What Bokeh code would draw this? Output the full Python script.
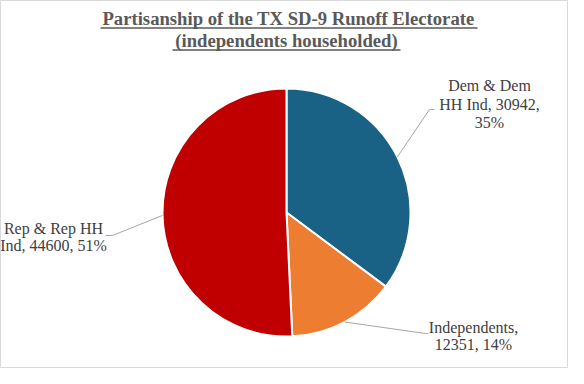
import math
from bokeh.plotting import figure
from bokeh.models import Range1d, ColumnDataSource
from bokeh.core.properties import value
from bokeh.embed import file_html
from bokeh.resources import INLINE

# ---- data ----
categories = ["Dem & Dem HH Ind", "Independents", "Rep & Rep HH Ind"]
values = [30942, 12351, 44600]
colors = ["#1A6186", "#ED7D31", "#C00000"]
title_lines = ["Partisanship of the TX SD-9 Runoff Electorate", "(independents householded)"]
# how each data label wraps (split points of "category, value, pct%")
label_wraps = [
    ["Dem & Dem", "HH Ind, {v},", "{p}%"],
    ["Independents,", "{v}, {p}%"],
    ["Rep & Rep HH", "Ind, {v}, {p}%"],
]

# ---- layout (reference pixel coordinates) ----
W, H = 568, 368
def Y(y):
    return 384 - y
FIX = 7  # correction for rendered text baseline

cx, cy, R = 294, Y(218), 124
label_x = [497, 481, 61]
label_baselines = [[98, 117, 135], [340, 357], [241, 258]]
elbows = [[(437, 115), (442, 115)], [(433, 339), (436, 339)], [(120, 241), (113, 241)]]

p = figure(width=W, height=H, x_range=Range1d(8, 576), y_range=Range1d(10, 378),
           output_backend="svg", toolbar_location=None, min_border=0)
p.axis.visible = False
p.grid.visible = False
p.outline_line_color = "#D9D9D9"
p.outline_line_width = 1
p.background_fill_color = "white"
p.border_fill_color = "white"

total = sum(values)
fracs = [v / total for v in values]
starts, ends, mids = [], [], []
cum = 0.0
for f in fracs:
    starts.append(math.pi / 2 - 2 * math.pi * cum)
    mids.append(math.pi / 2 - 2 * math.pi * (cum + f / 2))
    cum += f
    ends.append(math.pi / 2 - 2 * math.pi * cum)

src = ColumnDataSource(dict(x=[cx] * 3, y=[cy] * 3, start=starts, end=ends, color=colors, cat=categories))
p.wedge(x="x", y="y", radius=R, start_angle="start", end_angle="end", direction="clock",
        fill_color="color", line_color="white", line_width=2, source=src)

# leader lines
xs, ys = [], []
for a, el in zip(mids, elbows):
    px = cx + R * math.cos(a)
    py = cy + R * math.sin(a)
    xs.append([px] + [e[0] for e in el])
    ys.append([py] + [Y(e[1]) for e in el])
p.multi_line(xs=xs, ys=ys, line_color="#A6A6A6", line_width=1)

# data labels
tx, ty, tt = [], [], []
for i, v in enumerate(values):
    pct = round(v / total * 100)
    for line, b in zip(label_wraps[i], label_baselines[i]):
        tx.append(label_x[i])
        ty.append(Y(b - FIX))
        tt.append(line.format(v=v, p=pct))
p.text(x=tx, y=ty, text=tt, text_align="center", text_baseline="alphabetic",
       text_font=value("Liberation Serif"), text_font_size="16px", text_color="#404040")

# title
p.text(x=[296, 294], y=[Y(31 - FIX), Y(53 - FIX)], text=title_lines, text_align="center",
       text_baseline="alphabetic", text_font=value("Liberation Serif"),
       text_font_style="bold", text_font_size="18.67px", text_color="#595959")
# underline
p.segment(x0=[108, 180], y0=[Y(33.5), Y(55.5)], x1=[485, 408], y1=[Y(33.5), Y(55.5)],
          line_color="#595959", line_width=1.5)

open("out.html", "w").write(file_html(p, INLINE))
